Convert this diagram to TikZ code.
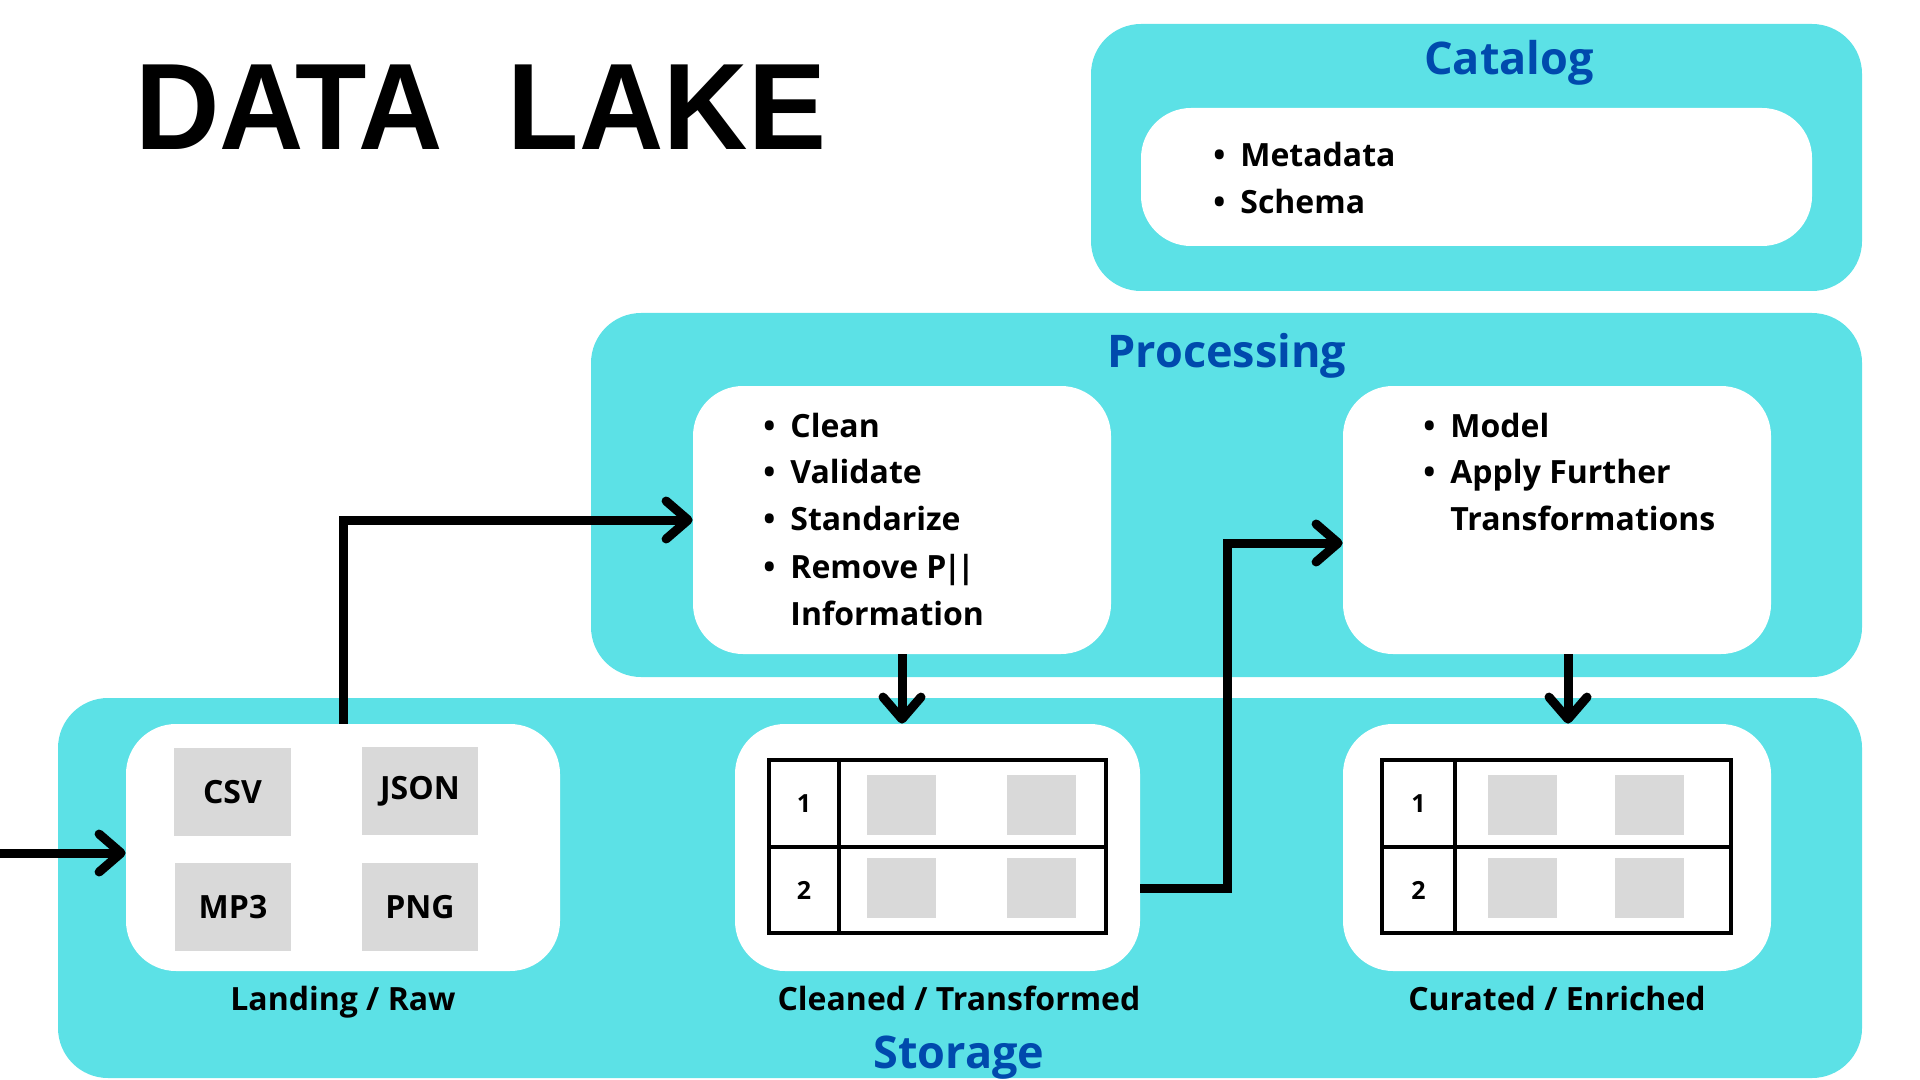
\documentclass[tikz,border=0pt]{standalone}
\usepackage{fontspec}
\setmainfont{Open Sans}
\newfontfamily\headfont{Liberation Sans}
\usetikzlibrary{arrows.meta,positioning,fit,calc}
\definecolor{lake}{HTML}{5CE1E6}
\definecolor{headblue}{HTML}{004AAD}
\definecolor{tilegrey}{HTML}{D9D9D9}
\newcommand{\itm}{\makebox[13.5pt][l]{\textbullet}}
\tikzset{
  panel/.style={
    fill=lake,
    rounded corners=25pt,
    inner sep=0pt,
  },
  card/.style={panel, fill=white},
  tile/.style={
    fill=tilegrey,
    inner sep=0pt,
    label={[font=\fontsize{16}{19}\selectfont\bfseries]center:#1},
  },
  tile/.default={},
  cell/.style={draw, line width=2pt, inner sep=0pt,
    label={[font=\fontsize{12.5}{15}\selectfont\bfseries]center:#1}},
  cell/.default={},
  ttl/.style={text=headblue, inner sep=0pt, anchor=base, font=\fontsize{22.5}{27}\selectfont\bfseries},
  lbl/.style={inner sep=0pt, anchor=base, font=\fontsize{16}{19}\selectfont\bfseries},
  list/.style={inner sep=0pt, anchor=base west, font=\fontsize{16}{23.5}\selectfont\bfseries},
  arr/.style={-{Straight Barb[length=11pt, width=19pt, round]}, line width=4.5pt},
}

\begin{document}
\begin{tikzpicture}[x=0.5pt, y=-0.5pt]
  \useasboundingbox (0,0) rectangle (1920,1080);

  \node[inner sep=0pt, anchor=base west] (title) at (135,150)
    {\scalebox{0.95}[1]{\fontsize{61.5}{70}\headfont\bfseries DATA\hspace{0.56em}LAKE}};

  % catalog
  \node[panel, fit={(1091,24) (1862,291)}] (catalog) {};
  \node[ttl] (cattl) at (1509,75) {Catalog};
  \node[card, fit={(1141,108) (1812,246)}] (catcard) {};
  \node[list] (catlist) at (1213,167) {\begin{tabular}[t]{@{}l@{}}
    \itm Metadata\\
    \itm Schema
  \end{tabular}};

  % processing
  \node[panel, fit={(591,313) (1862,677)}] (processing) {};
  \node[ttl] (proctl) at (1227,367) {Processing};
  \node[card, fit={(693,386) (1111,654)}] (clean) {};
  \node[card, fit={(1343,386) (1771,654)}] (model) {};
  \node[list] (cleanlist) at (763,437) {\begin{tabular}[t]{@{}l@{}}
    \itm Clean\\
    \itm Validate\\
    \itm Standarize\\
    \itm Remove P\kern-1.5pt|\kern-2pt|\\
    \hspace{13.5pt}Information
  \end{tabular}};
  \node[list] (modellist) at (1423,437) {\begin{tabular}[t]{@{}l@{}}
    \itm Model\\
    \itm Apply Further\\
    \hspace{13.5pt}Transformations
  \end{tabular}};

  % storage
  \node[panel, fit={(58,698) (1862,1078)}] (storage) {};
  \node[ttl] (stortl) at (959,1068) {Storage};
  \node[card, fit={(126,724) (560,971)}] (landing) {};
  \node[card, fit={(735,724) (1140,971)}] (cleaned) {};
  \node[card, fit={(1343,724) (1771,971)}] (curated) {};

  \node[tile=CSV, fit={(174,748) (291,836)}] (csv) {};
  \node[tile=JSON, fit={(362,747) (478,835)}] (json) {};
  \node[tile=MP3, fit={(175,863) (291,951)}] (mp3) {};
  \node[tile=PNG, fit={(362,863) (478,951)}] (png) {};

  % tables
  \node[cell=1, fit={(769,760) (839,847)}] (cl1) {};
  \node[cell=2, fit={(769,847) (839,933)}] (cl2) {};
  \node[cell, fit={(839,760) (1106,847)}] (cl1d) {};
  \node[cell, fit={(839,847) (1106,933)}] (cl2d) {};
  \node[cell=1, fit={(1382,760) (1455,847)}] (cu1) {};
  \node[cell=2, fit={(1382,847) (1455,933)}] (cu2) {};
  \node[cell, fit={(1455,760) (1731,847)}] (cu1d) {};
  \node[cell, fit={(1455,847) (1731,933)}] (cu2d) {};
  \foreach \tx in {867,1007,1488,1615}
    \foreach \ty in {775,858}
      \node[tile, fit={(\tx,\ty) ($(\tx,\ty)+(69,60)$)}] (blk-\tx-\ty) {};

  \node[lbl] (landlbl) at (343,1010) {Landing / Raw};
  \node[lbl] (cleanlbl) at (959,1010) {Cleaned / Transformed};
  \node[lbl] (curlbl) at (1557,1010) {Curated / Enriched};

  % arrows
  \coordinate (src) at (0,853);
  \draw[arr] (src) -- (src -| landing.west);
  \draw[arr] (landing.north) |- (clean.west);
  \draw[arr] (clean.south) -- (clean.south |- cleaned.north);
  \draw[arr] ($(cleaned.east)+(0,41)$) -- ++(87,0) |- ($(model.west)+(0,23)$);
  \coordinate (mdrop) at ($(model.south)+(11,0)$);
  \draw[arr] (mdrop) -- (mdrop |- curated.north);
\end{tikzpicture}
\end{document}
